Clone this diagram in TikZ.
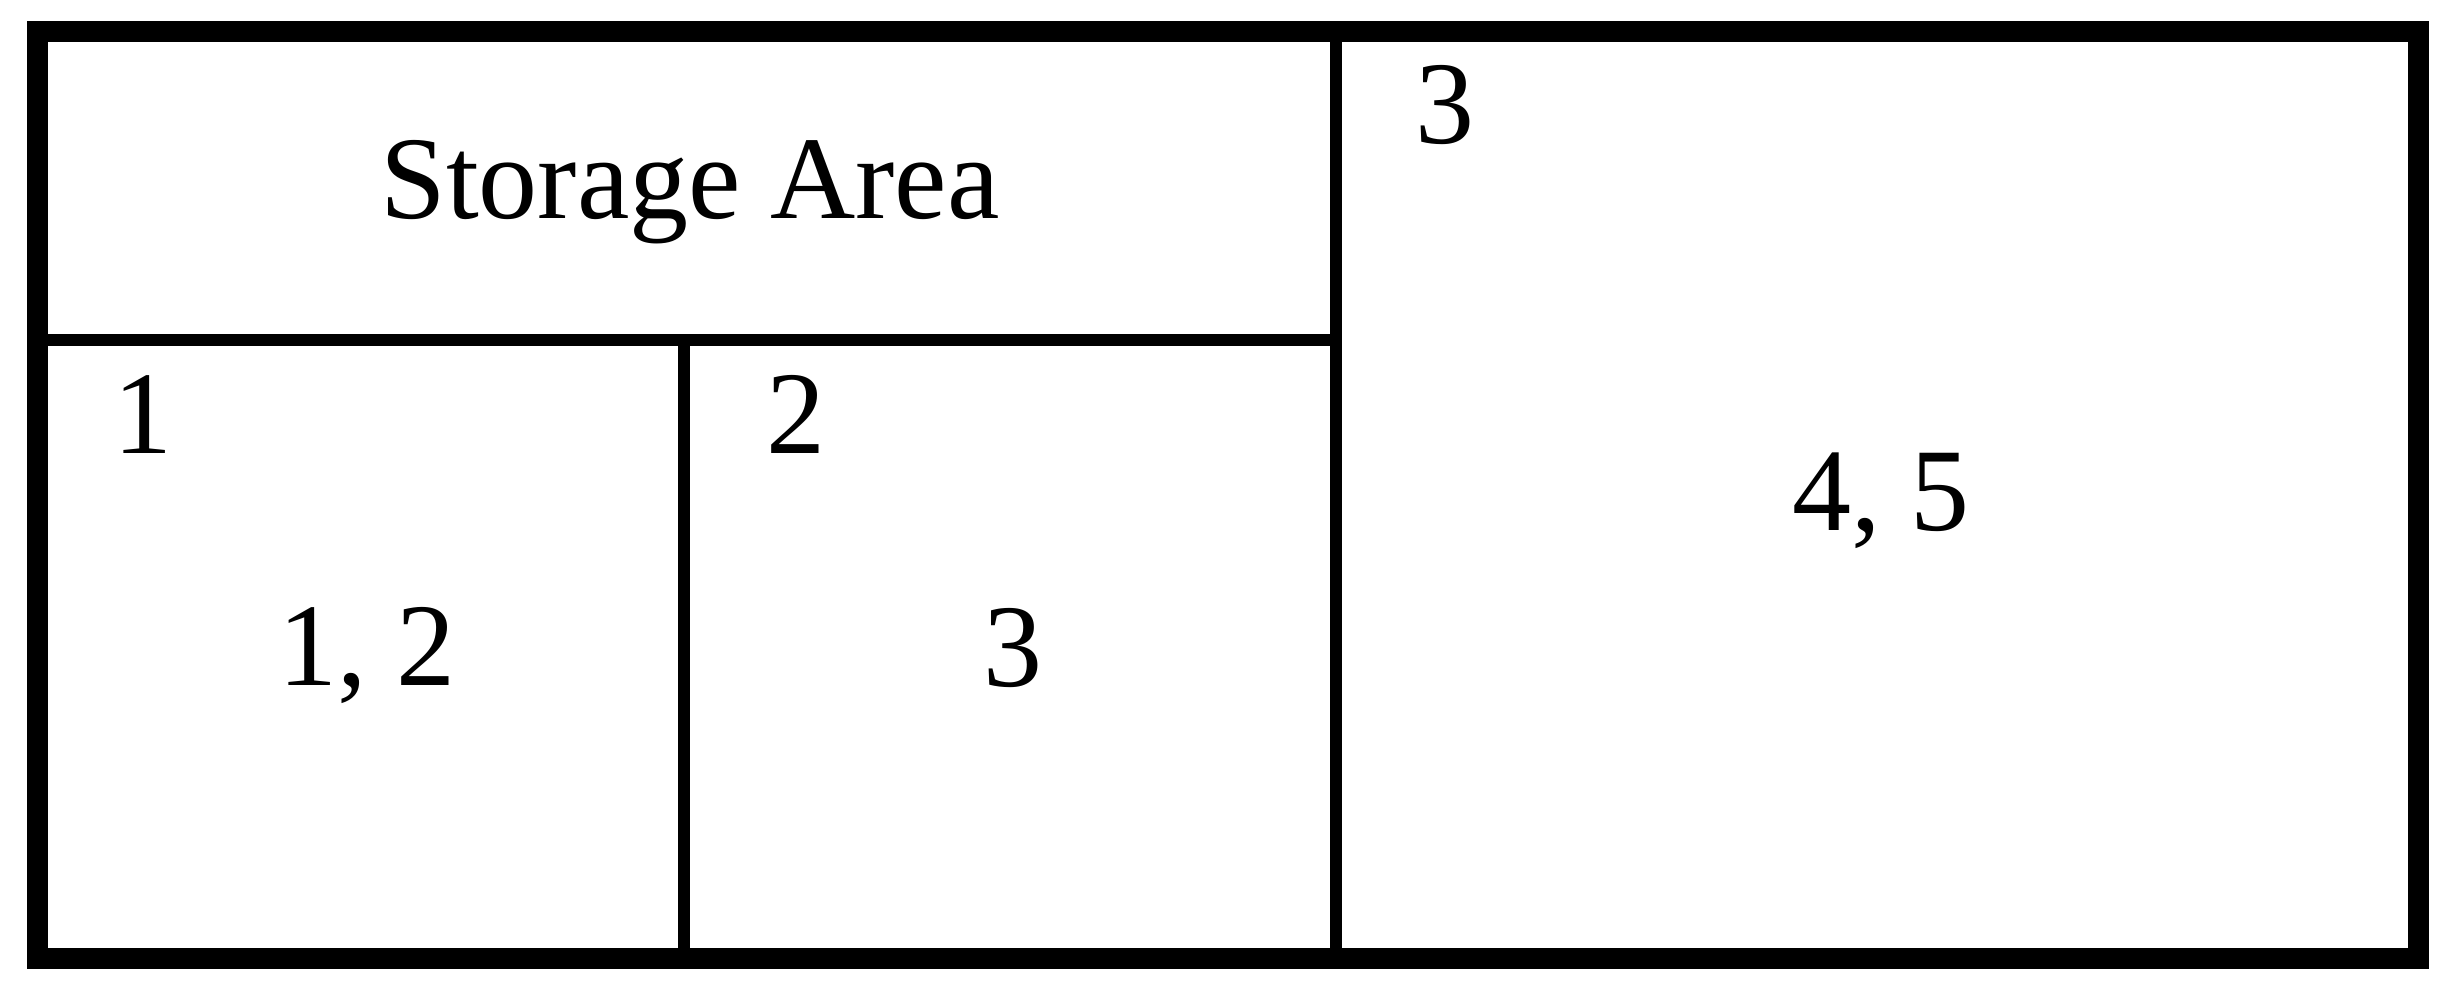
\documentclass[tikz,border=0pt]{standalone}
\usepackage{fontspec}
\setmainfont{Liberation Serif}
\begin{document}
\begin{tikzpicture}[x=0.3pt,y=-0.3pt,
  outer/.style={line width=6.3pt,draw=black},
  inner/.style={line width=3.6pt,draw=black},
  lbl/.style={inner sep=0pt,outer sep=0pt,anchor=base,font=\fontsize{35.4pt}{42pt}\selectfont}]
\useasboundingbox (0,0) rectangle (2455,984);
\draw[inner] (1336,31.5) -- (1336,958.5);
\draw[inner] (37.5,340) -- (1336,340);
\draw[inner] (684,340) -- (684,958.5);
\draw[outer] (37.5,31.5) rectangle (2418,958.5);
\node[lbl] (storage) at (690,218) {Storage Area};
\node[lbl] (n3top) at (1445,143) {3};
\node[lbl] (n1) at (143,453) {1};
\node[lbl] (n2) at (796,453) {2};
\node[lbl] (n12) at (366.5,685) {1, 2};
\node[lbl] (n3) at (1012.5,686) {3};
\node[lbl] (n45) at (1880.5,530) {4, 5};
\end{tikzpicture}
\end{document}
